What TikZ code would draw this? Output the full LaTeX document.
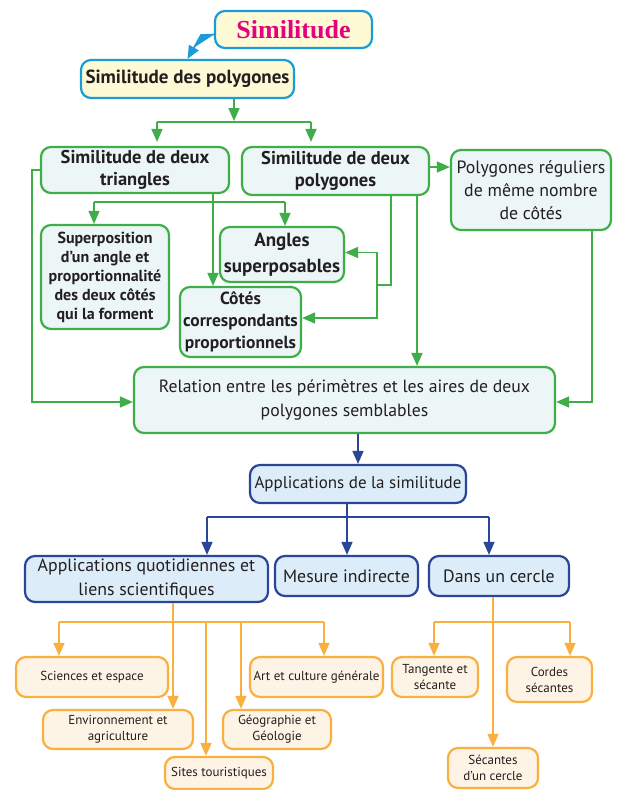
\documentclass[tikz,border=0pt]{standalone}
\usepackage{fontspec}
\setmainfont{PT Sans}
\newfontfamily\titlefont{Liberation Serif}
\usetikzlibrary{arrows.meta}
\definecolor{gr}{HTML}{3FAE49}
\definecolor{grfill}{HTML}{ECF6F6}
\definecolor{bl}{HTML}{1B9BD7}
\definecolor{ylfill}{HTML}{FFFAD6}
\definecolor{nv}{HTML}{2B4597}
\definecolor{nvfill}{HTML}{DCEDF9}
\definecolor{or}{HTML}{F9B040}
\definecolor{orfill}{HTML}{FEF4E6}
\definecolor{mag}{HTML}{E5007D}
\definecolor{txt}{HTML}{231F20}
\tikzset{
  box/.style={rectangle, rounded corners=10pt, inner sep=0pt, align=center, text=txt},
  ybox/.style={box, draw=bl, line width=2.2pt, fill=ylfill},
  gbox/.style={box, draw=gr, line width=2.2pt, fill=grfill},
  nbox/.style={box, draw=nv, line width=2.2pt, fill=nvfill},
  obox/.style={box, draw=or, line width=2.2pt, fill=orfill, font={\fontsize{13}{16}\selectfont}},
  tip/.style={-{Triangle[length=13pt,width=11pt]}},
  bline/.style={draw=bl, line width=1.6pt},
  gline/.style={draw=gr, line width=1.6pt},
  nline/.style={draw=nv, line width=1.6pt},
  oline/.style={draw=or, line width=1.6pt},
  barr/.style={bline, tip, fill=bl},
  garr/.style={gline, tip},
  narr/.style={nline, tip},
  oarr/.style={oline, tip},
}
\begin{document}
\begin{tikzpicture}[x=1pt,y=-1pt]
\useasboundingbox[fill=white] (0,0) rectangle (616,790);
% blue/yellow
\node[ybox, minimum width=157pt, minimum height=37pt, font={\titlefont\bfseries\fontsize{26}{28}\selectfont}, text=mag] (sim) at (293.5,29.5) {Similitude};
\node[ybox, minimum width=213pt, minimum height=38pt, font={\bfseries\fontsize{19}{21}\selectfont}] (simpoly) at (187.5,79) {Similitude des polygones};
% green
\node[gbox, minimum width=188pt, minimum height=46pt, font={\bfseries\fontsize{18.5}{21.5}\selectfont}] (tri) at (135,170) {Similitude de deux\\triangles};
\node[gbox, minimum width=187pt, minimum height=48pt, font={\bfseries\fontsize{18.5}{21.5}\selectfont}] (poly) at (335.5,171) {Similitude de deux\\polygones};
\node[gbox, minimum width=160pt, minimum height=80pt, font={\fontsize{17.8}{23}\selectfont}] (reg) at (531,190) {Polygones réguliers\\de même nombre\\de côtés};
\node[gbox, minimum width=128pt, minimum height=104pt, font={\bfseries\fontsize{16}{19}\selectfont}] (sup) at (105,277) {Superposition\\d’un angle et\\proportionnalité\\des deux côtés\\qui la forment};
\node[gbox, minimum width=124pt, minimum height=55pt, font={\bfseries\fontsize{19}{26.5}\selectfont}] (ang) at (282,254.5) {Angles\\superposables};
\node[gbox, minimum width=121pt, minimum height=70pt, font={\bfseries\fontsize{17.5}{22}\selectfont}] (cot) at (240.5,322) {Côtés\\correspondants\\proportionnels};
\node[gbox, minimum width=421pt, minimum height=66pt, font={\fontsize{17.7}{23.5}\selectfont}] (rel) at (344.5,400) {Relation entre les périmètres et les aires de deux\\polygones semblables};
% navy
\node[nbox, minimum width=216pt, minimum height=38pt, font={\fontsize{17}{20}\selectfont}] (app) at (358,484) {Applications de la similitude};
\node[nbox, minimum width=243pt, minimum height=46pt, font={\fontsize{17.8}{23.5}\selectfont}] (quot) at (146.5,579) {Applications quotidiennes et\\liens scientifiques};
\node[nbox, minimum width=143pt, minimum height=40pt, font={\fontsize{17.8}{20}\selectfont}] (mes) at (346.5,576) {Mesure indirecte};
\node[nbox, minimum width=140pt, minimum height=40pt, font={\fontsize{17.8}{20}\selectfont}] (cer) at (499,576) {Dans un cercle};
% orange
\node[obox, minimum width=152pt, minimum height=40pt] (sci) at (92,677) {Sciences et espace};
\node[obox, minimum width=133pt, minimum height=40pt] (art) at (316.5,677) {Art et culture générale};
\node[obox, minimum width=150pt, minimum height=39pt] (env) at (118,729.5) {Environnement et\\agriculture};
\node[obox, minimum width=108pt, minimum height=39pt] (geo) at (277,729.5) {Géographie et\\Géologie};
\node[obox, minimum width=108pt, minimum height=32pt] (sit) at (219,773) {Sites touristiques};
\node[obox, minimum width=86pt, minimum height=40pt] (tan) at (435,677) {Tangente et\\sécante};
\node[obox, minimum width=85pt, minimum height=45pt] (cor) at (549.5,679.5) {Cordes\\sécantes};
\node[obox, minimum width=90pt, minimum height=40pt] (sec) at (493,768) {Sécantes\\d’un cercle};
% blue connector
\draw[barr] ([yshift=-5pt]sim.west) -- (201,35) -- (simpoly.north);
% green connectors
\draw[garr] (simpoly.south -| 234,0) -- (234,121);
\draw[gline] (157,122) -- (311,122);
\draw[garr] (157,122) -- ([yshift=4pt]tri.north -| 157,0);
\draw[garr] (311,122) -- ([yshift=4pt]poly.north -| 311,0);
\draw[garr] ([yshift=4pt]poly.east) -- ([yshift=4pt]poly.east -| reg.west);
\draw[garr] (tri.west) -- (32,170) |- ([yshift=-2pt]rel.west);
\draw[garr] (tri.south -| 213,0) -- (cot.north -| 213,0);
\draw[gline] (94,202) -- (285,202);
\draw[garr] (94,202) -- (sup.north -| 94,0);
\draw[garr] (285,202) -- (ang.north -| 285,0);
\draw[garr] (poly.south -| 391,0) |- (377,285) |- ([yshift=2pt]ang.east);
\draw[garr] (377,285) |- ([yshift=4pt]cot.east);
\draw[garr] (poly.south -| 417,0) -- (rel.north -| 417,0);
\draw[garr] (reg.south -| 592,0) |- ([yshift=-2pt]rel.east);
% navy connectors
\draw[narr] (rel.south -| app.north) -- (app.north);
\draw[nline] (app.south -| 347,0) -- (347,517);
\draw[nline] (207,517) -- (489,517);
\draw[narr] (207,517) -- (quot.north -| 207,0);
\draw[narr] (347,517) -- (mes.north -| 347,0);
\draw[narr] (489,517) -- (cer.north -| 489,0);
% orange connectors
\draw[oarr] (quot.south -| 173,0) -- (env.north -| 173,0);
\draw[oline] (59,622) -- (324,622);
\draw[oarr] (59,622) -- (sci.north -| 59,0);
\draw[oarr] (324,622) -- (art.north -| 324,0);
\draw[oarr] (206,622) -- (sit.north -| 206,0);
\draw[oarr] (241,622) -- (geo.north -| 241,0);
\draw[oarr] (cer.south -| 493,0) -- (sec.north -| 493,0);
\draw[oline] (434,622) -- (570,622);
\draw[oarr] (434,622) -- (tan.north -| 434,0);
\draw[oarr] (570,622) -- (cor.north -| 570,0);
\end{tikzpicture}
\end{document}
